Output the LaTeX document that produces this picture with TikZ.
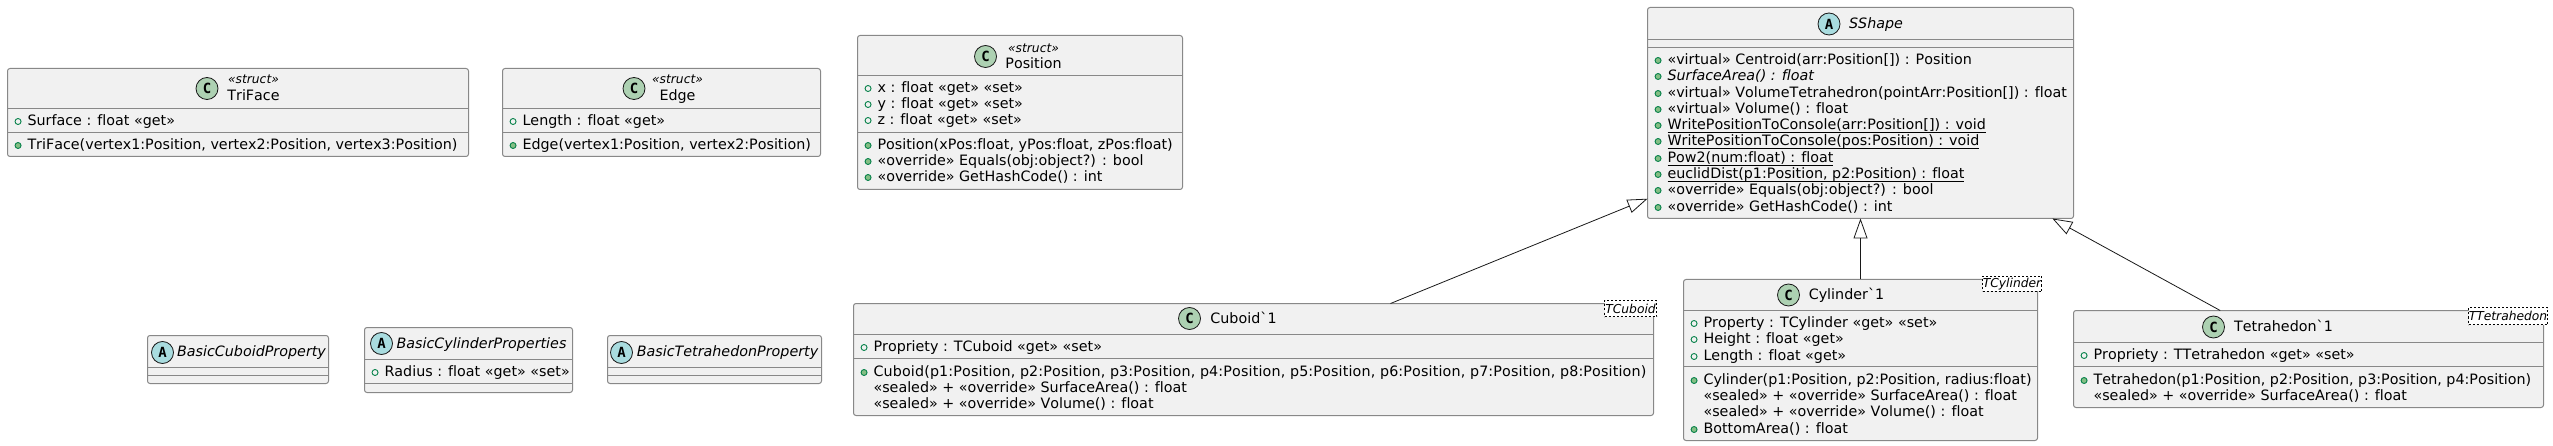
\documentclass[tikz,border=0pt]{standalone}
\usepackage{fontspec}
\setmainfont{DejaVu Sans}[Ligatures={TeXOff,CommonOff},Kerning=Off]
\newfontfamily\spotfont{DejaVu Sans Mono}
\usepackage{xcolor}
\usetikzlibrary{arrows.meta}
\usetikzlibrary{shapes.geometric}
\definecolor{boxfill}{HTML}{F1F1F1}
\definecolor{boxline}{HTML}{888888}
\definecolor{inkline}{HTML}{181818}
\definecolor{spotgreen}{HTML}{ADD1B2}
\definecolor{spotblue}{HTML}{A9DCDF}
\definecolor{publine}{HTML}{038048}
\definecolor{pubfill}{HTML}{84BE84}
\newcommand{\ulinetxt}[1]{\sbox0{#1}\rlap{\rule[-3pt]{\wd0}{0.9pt}}\box0}
\tikzset{
    classbox/.style = {rectangle, draw=boxline, fill=boxfill, line width=1pt, rounded corners=2.5pt, inner sep=0pt, outer sep=0pt},
    divider/.style = {draw=boxline, line width=1pt},
    spot/.style = {circle, draw=inkline, line width=0.8pt, inner sep=0pt, minimum size=22pt, font=\spotfont\bfseries\fontsize{14}{16}\selectfont},
    spotc/.style = {spot, fill=spotgreen},
    spota/.style = {spot, fill=spotblue},
    titletxt/.style = {anchor=base, inner sep=0pt, font=\fontsize{14.3}{16}\selectfont},
    abstxt/.style = {titletxt, font=\itshape\fontsize{14.3}{16}\selectfont},
    stereotxt/.style = {anchor=base, inner sep=0pt, font=\itshape\fontsize{12.3}{14}\selectfont},
    mline/.style = {anchor=base west, inner sep=0pt, outer sep=0pt, text height=11pt, text depth=3pt, font=\fontsize{14.3}{16}\selectfont},
    attrdot/.style = {circle, draw=publine, line width=0.9pt, inner sep=0pt, minimum size=6pt},
    methdot/.style = {attrdot, fill=pubfill},
    attrm/.style = {mline, label={[attrdot,label distance=6pt]left:{}}},
    methm/.style = {mline, label={[methdot,label distance=6pt]left:{}}},
    tagbox/.style = {rectangle, draw=black, fill=white, line width=0.7pt, dash pattern=on 2pt off 2pt, inner sep=0pt, font=\itshape\fontsize{12.3}{14}\selectfont},
    extends/.style = {draw=inkline, line width=0.8pt, -{Triangle[open,length=20pt,width=14pt]}},
}
\begin{document}
\begin{tikzpicture}[x=1pt,y=-1pt,shift={(0.5,0.5)}]
\useasboundingbox (-0.5,-0.5) rectangle (2552.5,445.5);
% top row
\node[classbox,minimum width=461pt,minimum height=88pt] at (237.5,112) (triface) {};
\node[spotc] at (206.5,88) (trifacespot) {C};
\node[stereotxt] at (253,83) (trifacest) {«struct»};
\node[titletxt] at (253,100) (trifacename) {TriFace};
\draw[divider] (triface.west |- 0,108) -- (triface.east |- 0,108);
\draw[divider] (triface.west |- 0,132) -- (triface.east |- 0,132);
\node[attrm] at (27,125) (trifacea) {Surface : float «get»};
\node[methm] at (27,149) (trifacem) {TriFace(vertex1:Position, vertex2:Position, vertex3:Position)};
%
\node[classbox,minimum width=318pt,minimum height=88pt] at (661,112) (edge) {};
\node[spotc] at (633.5,88) (edgespot) {C};
\node[stereotxt] at (677,83) (edgest) {«struct»};
\node[titletxt] at (677,100) (edgename) {Edge};
\draw[divider] (edge.west |- 0,108) -- (edge.east |- 0,108);
\draw[divider] (edge.west |- 0,132) -- (edge.east |- 0,132);
\node[attrm] at (522,125) (edgea) {Length : float «get»};
\node[methm] at (522,149) (edgem) {Edge(vertex1:Position, vertex2:Position)};
%
\node[classbox,minimum width=325pt,minimum height=154pt] at (1019.5,112) (position) {};
\node[spotc] at (985,56) (positionspot) {C};
\node[stereotxt] at (1033,52) (positionst) {«struct»};
\node[titletxt] at (1033,68) (positionname) {Position};
\draw[divider] (position.west |- 0,75) -- (position.east |- 0,75);
\draw[divider] (position.west |- 0,132) -- (position.east |- 0,132);
\node[attrm] at (877,92) (positiona1) {x : float «get» «set»};
\node[attrm] at (877,108) (positiona2) {y : float «get» «set»};
\node[attrm] at (877,124) (positiona3) {z : float «get» «set»};
\node[methm] at (877,149) (positionm1) {Position(xPos:float, yPos:float, zPos:float)};
\node[methm] at (877,165) (positionm2) {«override» Equals(obj:object?) : bool};
\node[methm] at (877,181) (positionm3) {«override» GetHashCode() : int};
%
\node[classbox,minimum width=426pt,minimum height=211pt] at (1860,112.5) (sshape) {};
\node[spota] at (1828.5,23.5) (sshapespot) {A};
\node[abstxt] at (1875.5,28) (sshapename) {SShape};
\draw[divider] (sshape.west |- 0,39) -- (sshape.east |- 0,39);
\draw[divider] (sshape.west |- 0,47) -- (sshape.east |- 0,47);
\node[methm] at (1667,64) (sshapem1) {«virtual» Centroid(arr:Position[]) : Position};
\node[methm] at (1667,80) (sshapem2) {\itshape SurfaceArea() : float};
\node[methm] at (1667,97) (sshapem3) {«virtual» VolumeTetrahedron(pointArr:Position[]) : float};
\node[methm] at (1667,113) (sshapem4) {«virtual» Volume() : float};
\node[methm] at (1667,129) (sshapem5) {\ulinetxt{WritePositionToConsole(arr:Position[]) : void}};
\node[methm] at (1667,145) (sshapem6) {\ulinetxt{WritePositionToConsole(pos:Position) : void}};
\node[methm] at (1667,162) (sshapem7) {\ulinetxt{Pow2(num:float) : float}};
\node[methm] at (1667,178) (sshapem8) {\ulinetxt{euclidDist(p1:Position, p2:Position) : float}};
\node[methm] at (1667,194) (sshapem9) {«override» Equals(obj:object?) : bool};
\node[methm] at (1667,211) (sshapem10) {«override» GetHashCode() : int};
% bottom row
\node[classbox,minimum width=181pt,minimum height=48pt] at (237.5,359) (basiccuboid) {};
\node[spota] at (162,352) (basiccuboidspot) {A};
\node[abstxt] at (251,356) (basiccuboidname) {BasicCuboidProperty};
\draw[divider] (basiccuboid.west |- 0,367) -- (basiccuboid.east |- 0,367);
\draw[divider] (basiccuboid.west |- 0,375) -- (basiccuboid.east |- 0,375);
%
\node[classbox,minimum width=208pt,minimum height=65pt] at (468,359.5) (basiccylinder) {};
\node[spota] at (381,343) (basiccylinderspot) {A};
\node[abstxt] at (481,348) (basiccylindername) {BasicCylinderProperties};
\draw[divider] (basiccylinder.west |- 0,359) -- (basiccylinder.east |- 0,359);
\draw[divider] (basiccylinder.west |- 0,383) -- (basiccylinder.east |- 0,383);
\node[attrm] at (384,376) (basiccylindera) {Radius : float «get» «set»};
%
\node[classbox,minimum width=214pt,minimum height=48pt] at (714,359) (basictetra) {};
\node[spota] at (621,352) (basictetraspot) {A};
\node[abstxt] at (727,356) (basictetraname) {BasicTetrahedonProperty};
\draw[divider] (basictetra.west |- 0,367) -- (basictetra.east |- 0,367);
\draw[divider] (basictetra.west |- 0,375) -- (basictetra.east |- 0,375);
%
\node[classbox,minimum width=800pt,minimum height=112pt] at (1253,359) (cuboid) {};
\node[spotc] at (1189,318) (cuboidspot) {C};
\node[titletxt] at (1243,323) (cuboidname) {Cuboid`1};
\node[tagbox,minimum width=52pt,minimum height=16pt] at (1630,308) (cuboidtag) {TCuboid};
\draw[divider] (cuboid.west |- 0,334) -- (cuboid.east |- 0,334);
\draw[divider] (cuboid.west |- 0,358) -- (cuboid.east |- 0,358);
\node[attrm] at (873,351) (cuboida) {Propriety : TCuboid «get» «set»};
\node[methm] at (873,376) (cuboidm1) {\addfontfeature{LetterSpace=1}Cuboid(p1:Position, p2:Position, p3:Position, p4:Position, p5:Position, p6:Position, p7:Position, p8:Position)};
\node[mline] at (873,392) (cuboidm2) {«sealed» + «override» SurfaceArea() : float};
\node[mline] at (873,408) (cuboidm3) {«sealed» + «override» Volume() : float};
%
\node[classbox,minimum width=354pt,minimum height=161pt] at (1860,359.5) (cylinder) {};
\node[spotc] at (1788,294.5) (cylinderspot) {C};
\node[titletxt] at (1846,299) (cylindername) {Cylinder`1};
\node[tagbox,minimum width=59pt,minimum height=15pt] at (2011.5,283.5) (cylindertag) {TCylinder};
\draw[divider] (cylinder.west |- 0,310) -- (cylinder.east |- 0,310);
\draw[divider] (cylinder.west |- 0,366) -- (cylinder.east |- 0,366);
\node[attrm] at (1703,327) (cylindera1) {Property : TCylinder «get» «set»};
\node[attrm] at (1703,343) (cylindera2) {Height : float «get»};
\node[attrm] at (1703,360) (cylindera3) {Length : float «get»};
\node[methm] at (1703,384) (cylinderm1) {Cylinder(p1:Position, p2:Position, radius:float)};
\node[mline] at (1703,400) (cylinderm2) {«sealed» + «override» SurfaceArea() : float};
\node[mline] at (1703,416) (cylinderm3) {«sealed» + «override» Volume() : float};
\node[methm] at (1703,433) (cylinderm4) {BottomArea() : float};
%
\node[classbox,minimum width=470pt,minimum height=97pt] at (2308,358.5) (tetra) {};
\node[spotc] at (2213,326.5) (tetraspot) {C};
\node[titletxt] at (2283,331) (tetraname) {Tetrahedon`1};
\node[tagbox,minimum width=79pt,minimum height=17pt] at (2507.5,315.5) (tetratag) {TTetrahedon};
\draw[divider] (tetra.west |- 0,342) -- (tetra.east |- 0,342);
\draw[divider] (tetra.west |- 0,366) -- (tetra.east |- 0,366);
\node[attrm] at (2093,359) (tetraa) {Propriety : TTetrahedon «get» «set»};
\node[methm] at (2093,384) (tetram1) {Tetrahedon(p1:Position, p2:Position, p3:Position, p4:Position)};
\node[mline] at (2093,400) (tetram2) {«sealed» + «override» SurfaceArea() : float};
% inheritance
\draw[extends] (cuboid) -- (sshape);
\draw[extends] (cylinder) -- (sshape);
\draw[extends] (tetra) -- (sshape);
\end{tikzpicture}
\end{document}
